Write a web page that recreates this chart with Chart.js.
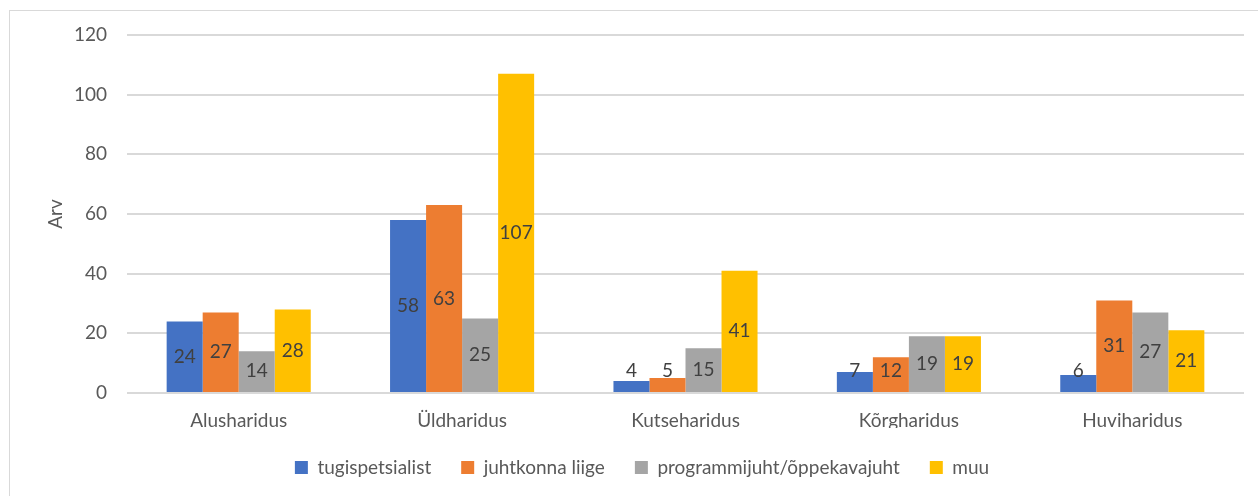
<!DOCTYPE html>
<html>
<head>
<meta charset="utf-8">
<script src="https://cdn.jsdelivr.net/npm/chart.js@4"></script>
<style>
  html, body { margin: 0; padding: 0; background: #fff; }
  #wrap { position: relative; width: 1258px; height: 496px; }
</style>
</head>
<body>
<div id="wrap"><canvas id="bar-chart" width="1258" height="496"></canvas></div>
<script>
const categories = ["Alusharidus", "Üldharidus", "Kutseharidus", "Kõrgharidus", "Huviharidus"];
const tugispetsialist = [24, 58, 4, 7, 6];
const juhtkonnaLiige = [27, 63, 5, 12, 31];
const programmijuht = [14, 25, 15, 19, 27];
const muu = [28, 107, 41, 19, 21];
const yTicks = [0, 20, 40, 60, 80, 100, 120];

const FONT = "Lato, 'Open Sans', sans-serif";
const TEXT = "#595959";

// outer frame like the office chart border
const framePlugin = {
  id: "frame",
  beforeDraw(chart) {
    const ctx = chart.ctx;
    ctx.save();
    ctx.fillStyle = "#fff";
    ctx.fillRect(0, 0, chart.width, chart.height);
    ctx.strokeStyle = "#d9d9d9";
    ctx.lineWidth = 1;
    ctx.strokeRect(9.5, 10.5, chart.width + 20, chart.height + 20);
    ctx.restore();
  }
};

// value labels centred in the bar, kept above the axis for short bars
const valueLabels = {
  id: "valueLabels",
  afterDatasetsDraw(chart) {
    const ctx = chart.ctx;
    ctx.save();
    ctx.font = "19px " + FONT;
    ctx.fillStyle = "#404040";
    ctx.textAlign = "center";
    ctx.textBaseline = "middle";
    chart.data.datasets.forEach((ds, i) => {
      chart.getDatasetMeta(i).data.forEach((bar, j) => {
        const y = Math.min((bar.y + bar.base) / 2, bar.base - 21);
        ctx.fillText(String(ds.data[j]), bar.x, y);
      });
    });
    ctx.restore();
  }
};

const config = {
  type: "bar",
  data: {
    labels: categories,
    datasets: [
      { label: "tugispetsialist", data: tugispetsialist, backgroundColor: "#4472C4" },
      { label: "juhtkonna liige", data: juhtkonnaLiige, backgroundColor: "#ED7D31" },
      { label: "programmijuht/õppekavajuht", data: programmijuht, backgroundColor: "#A5A5A5" },
      { label: "muu", data: muu, backgroundColor: "#FFC000" },
    ],
  },
  options: {
    responsive: false,
    animation: false,
    layout: { padding: { top: 35, right: 14, bottom: 9, left: 40 } },
    datasets: {
      bar: { categoryPercentage: 0.645, barPercentage: 1.0, borderWidth: 0 },
    },
    scales: {
      x: {
        grid: { display: false },
        border: { display: false },
        ticks: { color: TEXT, font: { family: FONT, size: 19 }, padding: 8 },
        afterFit(scale) { scale.height = 35; },
      },
      y: {
        min: 0,
        max: 120,
        afterBuildTicks(scale) { scale.ticks = yTicks.map(v => ({ value: v })); },
        grid: { color: "#d9d9d9", lineWidth: 2, drawTicks: false },
        border: { display: false },
        ticks: { color: TEXT, font: { family: FONT, size: 19 }, padding: 20 },
        title: {
          display: true,
          text: "Arv",
          color: TEXT,
          font: { family: FONT, size: 19 },
          padding: { top: 4, bottom: 0 },
        },
        afterFit(scale) { scale.width = 87; },
      },
    },
    plugins: {
      legend: {
        position: "bottom",
        labels: {
          color: TEXT,
          font: { family: FONT, size: 19 },
          boxWidth: 13,
          boxHeight: 13,
          padding: 30,
        },
      },
      tooltip: { enabled: false },
    },
  },
  plugins: [framePlugin, valueLabels],
};

const myBarChart = new Chart(document.getElementById("bar-chart"), config);
</script>
</body>
</html>
